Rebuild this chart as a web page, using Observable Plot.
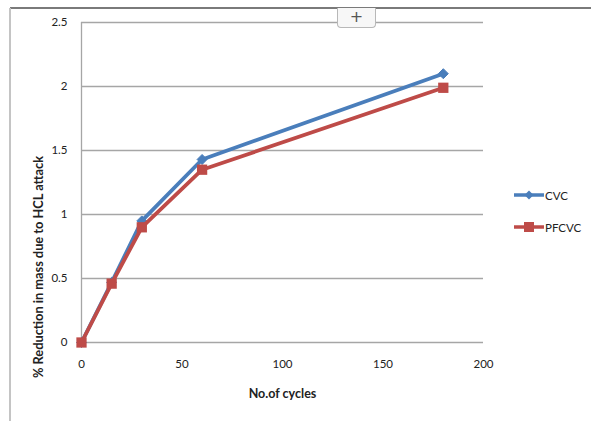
<!DOCTYPE html>
<html>
<head>
<meta charset="utf-8">
<script src="https://cdn.jsdelivr.net/npm/d3@7"></script>
<script src="https://cdn.jsdelivr.net/npm/@observablehq/plot@0.6"></script>
<style>
  html, body { margin: 0; padding: 0; background: #fff; }
  #wrap { position: relative; width: 591px; height: 421px; overflow: hidden; font-family: Lato, "Open Sans", sans-serif; }
  #frameTop { position: absolute; left: 10px; top: 7px; width: 581px; height: 0; border-top: 2px solid #7a7a7a; }
  #frameLeft { position: absolute; left: 9px; top: 8px; width: 0; height: 413px; border-left: 2px solid #c4c4c4; }
  #plus { position: absolute; left: 337px; top: 8px; width: 37px; height: 19px; border: 1px solid #b8b8b8; border-top: none; border-radius: 0 0 4px 4px; background: #f7f7f7; color: #555; font: 16px/17px "DejaVu Sans", sans-serif; text-align: center; }
  #legend { position: absolute; left: 514px; top: 186px; font-size: 11.5px; color: #222; }
  .item { display: flex; align-items: center; height: 18px; margin-bottom: 14px; }
  .item svg { margin-right: 1px; }
  #chart { position: absolute; left: 0; top: 0; }
  #ytitle { position: absolute; left: 38px; top: 267px; transform: translate(-50%, -50%) rotate(-90deg); white-space: nowrap; font-weight: bold; font-size: 12.8px; color: #222; }
</style>
</head>
<body>
<div id="wrap">
  <div id="chart"></div>
  <div id="frameTop"></div>
  <div id="frameLeft"></div>
  <div id="plus">+</div>
  <div id="legend"></div>
  <div id="ytitle"></div>
</div>
<script>
const cycles = [0, 15, 30, 60, 180];
const cvc = [0, 0.47, 0.95, 1.43, 2.1];
const pfcvc = [0, 0.46, 0.9, 1.35, 1.99];
const seriesNames = ["CVC", "PFCVC"];
const seriesColors = ["#4a7ebb", "#be4b48"];
const xTicks = [0, 50, 100, 150, 200];
const yTicks = [0, 0.5, 1, 1.5, 2, 2.5];
const xTitle = "No.of cycles";
const yTitle = "% Reduction in mass due to HCL attack";

const rows = [];
cycles.forEach((c, i) => {
  rows.push({series: "CVC", x: c, y: cvc[i]});
  rows.push({series: "PFCVC", x: c, y: pfcvc[i]});
});
const cvcRows = rows.filter(d => d.series === "CVC");
const pfRows = rows.filter(d => d.series === "PFCVC");

const chart = Plot.plot({
  width: 591,
  height: 421,
  marginLeft: 81,
  marginRight: 108,
  marginTop: 22,
  marginBottom: 79,
  style: {fontFamily: "Lato, 'Open Sans', sans-serif", fontSize: "11.5px", color: "#222", background: "transparent"},
  x: {domain: [0, 200], ticks: xTicks},
  y: {domain: [0, 2.5], ticks: yTicks},
  marks: [
    Plot.ruleY(yTicks, {stroke: "#a6a6a6", strokeWidth: 1.3}),
    Plot.ruleX([0], {stroke: "#a6a6a6", strokeWidth: 1.3}),
    Plot.axisX({ticks: xTicks, tickSize: 0, tickPadding: 17, label: null}),
    Plot.text([xTitle], {frameAnchor: "bottom", dy: 55, fontWeight: "bold", fontSize: 12.5, fill: "#222"}),
    Plot.axisY({ticks: yTicks, tickSize: 0, tickPadding: 14, tickFormat: d => String(d), label: null}),
    Plot.line(cvcRows, {x: "x", y: "y", stroke: seriesColors[0], strokeWidth: 3.8}),
    Plot.dot(cvcRows, {x: "x", y: "y", symbol: "diamond2", fill: seriesColors[0], stroke: seriesColors[0], strokeWidth: 1, r: 4.5}),
    Plot.line(pfRows, {x: "x", y: "y", stroke: seriesColors[1], strokeWidth: 3.8}),
    Plot.dot(pfRows, {x: "x", y: "y", symbol: "square", fill: seriesColors[1], r: 5.8})
  ]
});
document.getElementById("chart").appendChild(chart);
document.getElementById("ytitle").textContent = yTitle;

// legend
const legend = d3.select("#legend");
seriesNames.forEach((name, i) => {
  const item = legend.append("div").attr("class", "item");
  const svg = item.append("svg").attr("width", 30).attr("height", 14);
  svg.append("line").attr("x1", 0).attr("x2", 30).attr("y1", 7).attr("y2", 7)
    .attr("stroke", seriesColors[i]).attr("stroke-width", 3.5);
  if (i === 0) {
    svg.append("path").attr("d", d3.symbol(d3.symbolSquare, 40)()).attr("transform", "translate(15,7) rotate(45)").attr("fill", seriesColors[i]);
  } else {
    svg.append("rect").attr("x", 10).attr("y", 2).attr("width", 10).attr("height", 10).attr("fill", seriesColors[i]);
  }
  item.append("span").text(name);
});
</script>
</body>
</html>
